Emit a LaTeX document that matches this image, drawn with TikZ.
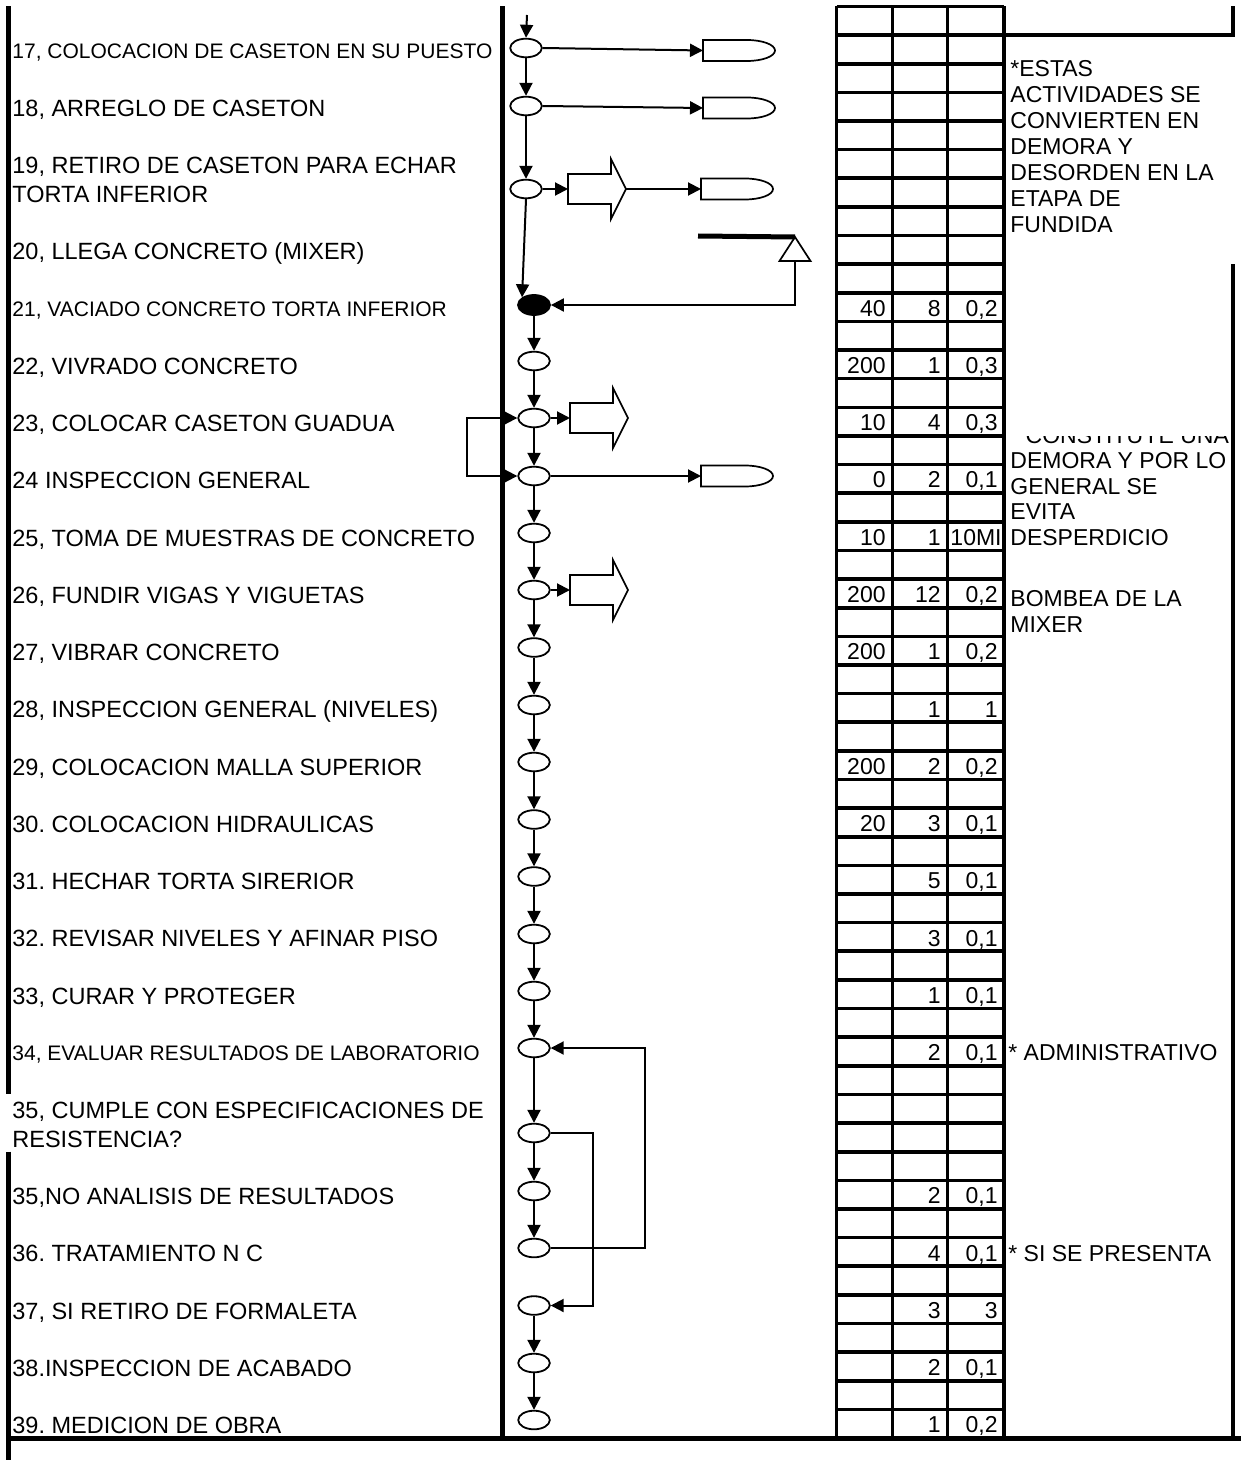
\documentclass[tikz,border=0pt]{standalone}
\usepackage{fontspec}
\setmainfont{Liberation Sans}
\frenchspacing
\usetikzlibrary{arrows.meta,shapes.geometric}
\tikzset{
  big/.style={font=\fontsize{11.75}{13}\selectfont, inner sep=0pt, anchor=base west},
  small/.style={font=\fontsize{10.5}{12}\selectfont, inner sep=0pt, anchor=base west},
  note/.style={font=\fontsize{11.5}{13}\selectfont, inner sep=0pt, anchor=base west},
  num/.style={font=\fontsize{11.5}{13}\selectfont, inner sep=0pt, anchor=base east},
  frame/.style={line width=2.1pt},
  grid/.style={line width=1.8pt},
  op/.style={draw, ellipse, line width=0.9pt, minimum width=15.8pt, minimum height=9.3pt, inner sep=0pt, fill=white},
  opfill/.style={draw, ellipse, line width=0.9pt, minimum width=16pt, minimum height=10pt, inner sep=0pt, fill=black},
  sym/.style={draw, line width=0.85pt, fill=white},
  flow/.style={line width=1pt},
  arr/.style={flow, -{Triangle[length=6.5pt,width=6.5pt]}},
  arrboth/.style={flow, {Triangle[length=6.5pt,width=6.5pt]}-{Triangle[length=6.5pt,width=6.5pt]}},
  dshape/.pic={\draw[sym] (0,-10.5) -- (44,-10.5) .. controls (59.5,-10.5) and (72,-5.8) .. (72,0) .. controls (72,5.8) and (59.5,10.5) .. (44,10.5) -- (0,10.5) -- cycle;},
  blockarrow/.pic={\draw[sym] (0,-15) -- (43,-15) -- (43,-30) -- (58,0) -- (43,30) -- (43,15) -- (0,15) -- cycle;},
  storetri/.pic={\draw[sym] (0,0) -- (15.5,24) -- (-15.5,24) -- cycle;}
}
\begin{document}
\begin{tikzpicture}[x=0.5pt,y=-0.5pt]
\useasboundingbox (0,0) rectangle (1241,1460);
\fill[white] (0,0) rectangle (1241,1460);

% frame lines
\draw[frame] (8.5,6.5) -- (8.5,1094.4);
\draw[frame] (8.5,1151.7) -- (8.5,1460);
\draw[frame] (502.5,6.5) -- (502.5,1438);
\draw[line width=2.5pt] (8.5,1438) -- (1241,1438);
\draw[frame] (1233,6.5) -- (1233,35.1) -- (1004,35.1);
\draw[frame] (1233,264.2) -- (1233,1438);

% table grid
\foreach \k in {0,...,50} {
  \draw[grid] (836.5,{6.5+28.63*\k}) -- (1004,{6.5+28.63*\k});
}
\foreach \xx in {836.5,892.5,947.5,1004} {
  \draw[grid] (\xx,6.5) -- (\xx,1438);
}

% activity labels
\node[small] (t17) at (12,58.4) {17, COLOCACION DE CASETON EN SU PUESTO};
\node[big] (t18) at (12,116.6) {18, ARREGLO DE CASETON};
\node[big] (t19a) at (12,173.9) {19, RETIRO DE CASETON PARA ECHAR};
\node[big] (t19b) at (12,202.5) {TORTA INFERIOR};
\node[big] (t20) at (12,259.8) {20, LLEGA CONCRETO (MIXER)};
\node[small] (t21) at (12,316.1) {21, VACIADO CONCRETO TORTA INFERIOR};
\node[big] (t22) at (12,374.3) {22, VIVRADO CONCRETO};
\node[big] (t23) at (12,431.5) {23, COLOCAR CASETON GUADUA};
\node[big] (t24) at (12,488.8) {24 INSPECCION GENERAL};
\node[big] (t25) at (12,546.1) {25, TOMA DE MUESTRAS DE CONCRETO};
\node[big] (t26) at (12,603.3) {26, FUNDIR VIGAS Y VIGUETAS};
\node[big] (t27) at (12,660.6) {27, VIBRAR CONCRETO};
\node[big] (t28) at (12,717.9) {28, INSPECCION GENERAL (NIVELES)};
\node[big] (t29) at (12,775.1) {29, COLOCACION MALLA SUPERIOR};
\node[big] (t30) at (12,832.4) {30. COLOCACION HIDRAULICAS};
\node[big] (t31) at (12,889.7) {31. HECHAR TORTA SIRERIOR};
\node[big] (t32) at (12,946.9) {32. REVISAR NIVELES Y AFINAR PISO};
\node[big] (t33) at (12,1004.2) {33, CURAR Y PROTEGER};
\node[small] (t34) at (12,1060.6) {34, EVALUAR RESULTADOS DE LABORATORIO};
\node[big] (t35a) at (12,1118.7) {35, CUMPLE CON ESPECIFICACIONES DE};
\node[big] (t35b) at (12,1147.4) {RESISTENCIA?};
\node[big] (t35n) at (12,1204.6) {35,NO ANALISIS DE RESULTADOS};
\node[big] (t36) at (12,1261.9) {36. TRATAMIENTO N C};
\node[big] (t37) at (12,1319.1) {37, SI RETIRO DE FORMALETA};
\node[big] (t38) at (12,1376.4) {38.INSPECCION DE ACABADO};
\node[big] (t39) at (12,1433.7) {39. MEDICION DE OBRA};

% table numbers: row-centre y, col1, col2, col3
\foreach \yy/\a/\b/\c [count=\n] in {
  307.1/40/8/{0,2},
  364.4/200/1/{0,3},
  421.6/10/4/{0,3},
  478.9/0/2/{0,1},
  593.4/200/12/{0,2},
  650.7/200/1/{0,2},
  708.0//1/1,
  765.2/200/2/{0,2},
  822.5/20/3/{0,1},
  879.8//5/{0,1},
  937.0//3/{0,1},
  994.3//1/{0,1},
  1051.6//2/{0,1},
  1194.7//2/{0,1},
  1252.0//4/{0,1},
  1309.2//3/3,
  1366.5//2/{0,1},
  1423.8//1/{0,2}} {
  \node[num] (na\n) at (886,\yy+9) {\a};
  \node[num] (nb\n) at (941,\yy+9) {\b};
  \node[num] (nc\n) at (998,\yy+9) {\c};
}
\node[num] (na25) at (886,545.2) {10};
\node[num] (nb25) at (941,545.2) {1};
\node[num] (nc25) at (1002,545.2) {10MI};

% notes
\node[note] (n1a) at (1010,76.5) {*ESTAS};
\node[note] (n1b) at (1010,102.5) {ACTIVIDADES SE};
\node[note] (n1c) at (1010,128.5) {CONVIERTEN EN};
\node[note] (n1d) at (1010,154.5) {DEMORA Y};
\node[note] (n1e) at (1010,180.5) {DESORDEN EN LA};
\node[note] (n1f) at (1010,206.5) {ETAPA DE};
\node[note] (n1g) at (1010,232.5) {FUNDIDA};
\begin{scope}
  \clip (1005,436) rectangle (1231,560);
  \node[note] (n2a) at (1010,443) {* CONSTITUYE UNA};
  \node[note] (n2b) at (1010,468.5) {DEMORA Y POR LO};
  \node[note] (n2c) at (1010,494) {GENERAL SE};
  \node[note] (n2d) at (1010,519.5) {EVITA};
  \node[note] (n2e) at (1010,545) {DESPERDICIO};
\end{scope}
\node[note] (n3a) at (1010,606) {BOMBEA DE LA};
\node[note] (n3b) at (1010,632) {MIXER};
\node[note] (n4) at (1008,1060.6) {* ADMINISTRATIVO};
\node[note] (n5) at (1008,1261) {* SI SE PRESENTA};

% flow symbols
\node[op] (e17) at (526,48) {};
\node[op] (e18) at (526,106) {};
\node[op] (e19) at (526,189) {};
\node[opfill] (e21) at (534,305) {};
\node[op] (e22) at (534,361) {};
\node[op] (e23) at (534,418) {};
\node[op] (e24) at (534,476) {};
\node[op] (e25) at (534,533) {};
\node[op] (e26) at (534,590) {};
\node[op] (e27) at (534,647.5) {};
\node[op] (e28) at (534,705) {};
\node[op] (e29) at (534,762) {};
\node[op] (e30) at (534,819.5) {};
\node[op] (e31) at (534,876.5) {};
\node[op] (e32) at (534,934) {};
\node[op] (e33) at (534,991) {};
\node[op] (e34) at (534,1048) {};
\node[op] (e35) at (534,1133) {};
\node[op] (e35n) at (534,1191) {};
\node[op] (e36) at (534,1248) {};
\node[op] (e37) at (534,1305.5) {};
\node[op] (e38) at (534,1363) {};
\node[op] (e39) at (534,1420) {};

\coordinate (d17) at (703,50.5);
\coordinate (d18) at (703,108);
\coordinate (b19) at (568,189);
\coordinate (b19tip) at (626,189);
\coordinate (d19) at (701,189);
\coordinate (d24) at (701,476);
\coordinate (b23) at (570,418);
\coordinate (b26) at (570,590);
\coordinate (triapex) at (795,237);
\coordinate (tribase) at (795,261);
\coordinate (bar) at (698,236);
\coordinate (top) at (527,15);
\coordinate (lp) at (467,418);
\coordinate (r1) at (645,1248);
\coordinate (r2) at (593,1133);

\pic at (d17) {dshape};
\pic at (d18) {dshape};
\pic at (d19) {dshape};
\pic at (d24) {dshape};
\pic at (b19) {blockarrow};
\pic at (b23) {blockarrow};
\pic at (b26) {blockarrow};
\pic at (triapex) {storetri};
\draw[line width=2.5pt] (bar) -- (triapex);

% connectors
\draw[arr] (top) -- (e17.north);
\draw[arr] (e17.south) -- (e18.north);
\draw[arr] (e18.south) -- (e19.north);
\draw[arr] (e19.south) -- (e21.north west);
\draw[arr] (e17.east) -- (d17);
\draw[arr] (e18.east) -- (d18);
\draw[arr] (e19.east) -- (b19);
\draw[arr] (b19tip) -- (d19);
\draw[arr] (tribase) |- (e21.east);
\draw[arr] (e21.south) -- (e22.north);
\draw[arr] (e22.south) -- (e23.north);
\draw[arr] (e23.south) -- (e24.north);
\draw[arr] (e24.south) -- (e25.north);
\draw[arr] (e25.south) -- (e26.north);
\draw[arr] (e26.south) -- (e27.north);
\draw[arr] (e27.south) -- (e28.north);
\draw[arr] (e28.south) -- (e29.north);
\draw[arr] (e29.south) -- (e30.north);
\draw[arr] (e30.south) -- (e31.north);
\draw[arr] (e31.south) -- (e32.north);
\draw[arr] (e32.south) -- (e33.north);
\draw[arr] (e33.south) -- (e34.north);
\draw[arr] (e34.south) -- (e35.north);
\draw[arr] (e35.south) -- (e35n.north);
\draw[arr] (e35n.south) -- (e36.north);
\draw[arr] (e37.south) -- (e38.north);
\draw[arr] (e38.south) -- (e39.north);
\draw[arr] (e23.east) -- (b23);
\draw[arr] (e26.east) -- (b26);
\draw[arr] (e24.east) -- (d24);
\draw[arrboth] (e23.west) -- (lp) |- (e24.west);
\draw[arr] (e36.east) -- (r1) |- (e34.east);
\draw[arr] (e35.east) -- (r2) |- (e37.east);
\end{tikzpicture}
\end{document}
